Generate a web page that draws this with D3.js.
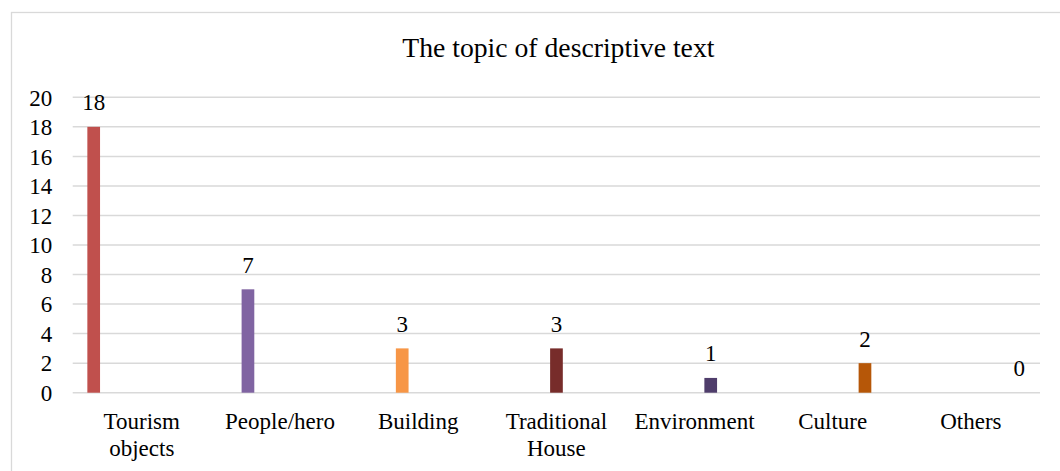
<!DOCTYPE html>
<html>
<head>
<meta charset="utf-8">
<script src="https://cdn.jsdelivr.net/npm/d3@7"></script>
<style>
  html, body { margin: 0; padding: 0; background: #fff; }
  svg { display: block; font-family: "Times New Roman", "Liberation Serif", serif; }
</style>
</head>
<body>
<svg id="chart" width="1060" height="471"></svg>
<script>
// Topics and how many descriptive texts fall under each
const categories = ["Tourism objects", "People/hero", "Building", "Traditional House", "Environment", "Culture", "Others"];
const values = [18, 7, 3, 3, 1, 2, 0];
const barColors = ["#C0504D", "#8064A2", "#F79646", "#772C2A", "#4F3D6B", "#B65708", "#4BACC6"];
const yTicks = [0, 2, 4, 6, 8, 10, 12, 14, 16, 18, 20];
const title = "The topic of descriptive text";

const svg = d3.select("#chart");
const W = 1060, H = 471;

const plot = { left: 72.7, right: 1040, top: 97.3, bottom: 392.7 };

// Outer chart frame
svg.append("rect")
  .attr("x", 11.5).attr("y", 12.5)
  .attr("width", W + 10).attr("height", H + 10)
  .attr("fill", "none").attr("stroke", "#d9d9d9").attr("stroke-width", 1.3);

// Title
svg.append("text")
  .attr("x", (plot.left + plot.right) / 2 + 2)
  .attr("y", 57)
  .attr("text-anchor", "middle")
  .attr("font-size", "27.7px")
  .attr("fill", "#000")
  .text(title);

const x0 = d3.scaleBand().domain(categories).range([plot.left, plot.right]).padding(0);
// each topic is its own series, so every group holds one slot per topic
const x1 = d3.scaleBand().domain(d3.range(categories.length))
  .range([12.96, 125.45]).paddingInner(0.21).paddingOuter(0.105);
const y = d3.scaleLinear().domain([0, 20]).range([plot.bottom, plot.top]);

// Gridlines
svg.append("g")
  .selectAll("line")
  .data(yTicks)
  .join("line")
  .attr("x1", plot.left).attr("x2", plot.right)
  .attr("y1", d => y(d)).attr("y2", d => y(d))
  .attr("stroke", "#d9d9d9").attr("stroke-width", 1.5);

// Y axis labels
const yAxis = d3.axisLeft(y).tickValues(yTicks).tickSize(0).tickPadding(0);
const gy = svg.append("g").attr("transform", `translate(${plot.left - 20.5},0)`).call(yAxis);
gy.select(".domain").remove();
gy.selectAll("text")
  .attr("font-family", "\"Times New Roman\", \"Liberation Serif\", serif")
  .attr("font-size", "23px").attr("fill", "#000").attr("dy", "0.34em");

// Bars
const bars = categories.map((c, i) => ({ cat: c, slot: i, value: values[i], color: barColors[i] }));
const barX = d => x0(d.cat) + x1(d.slot);

svg.append("g")
  .selectAll("rect")
  .data(bars)
  .join("rect")
  .attr("x", barX)
  .attr("y", d => y(d.value))
  .attr("width", x1.bandwidth())
  .attr("height", d => y(0) - y(d.value))
  .attr("fill", d => d.color);

// Value labels above bars
svg.append("g")
  .selectAll("text")
  .data(bars)
  .join("text")
  .attr("x", d => barX(d) + x1.bandwidth() / 2)
  .attr("y", d => y(d.value) - 16.5)
  .attr("text-anchor", "middle")
  .attr("font-size", "23px")
  .attr("fill", "#000")
  .text(d => d.value);

// Category labels, wrapped onto two lines where needed
const wrapAt = { "Tourism objects": ["Tourism", "objects"], "Traditional House": ["Traditional", "House"] };
const xl = svg.append("g");
categories.forEach(c => {
  const lines = wrapAt[c] || [c];
  const t = xl.append("text")
    .attr("x", x0(c) + x0.bandwidth() / 2)
    .attr("y", 428.5)
    .attr("text-anchor", "middle")
    .attr("font-size", "23px")
    .attr("fill", "#000");
  lines.forEach((ln, k) => {
    t.append("tspan")
      .attr("x", x0(c) + x0.bandwidth() / 2)
      .attr("dy", k === 0 ? 0 : 27)
      .text(ln);
  });
});
</script>
</body>
</html>
